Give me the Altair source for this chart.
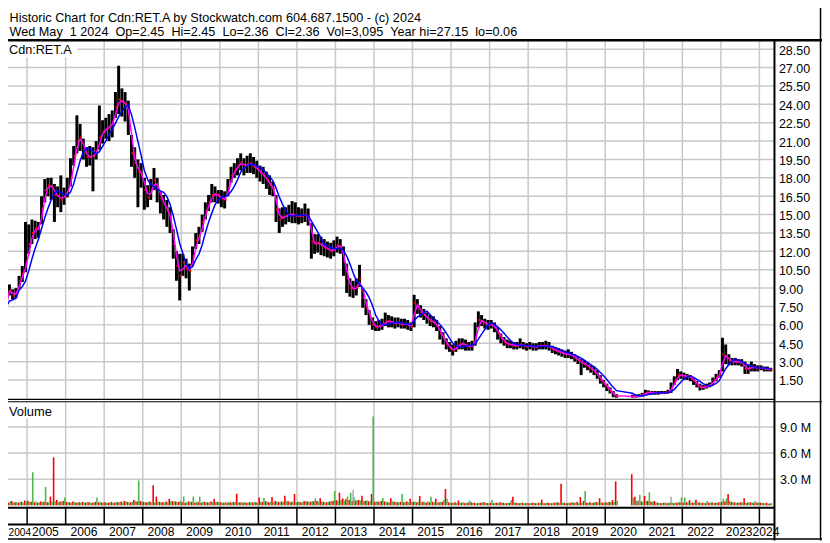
import altair as alt
import pandas as pd

FONT = "Liberation Sans"

# ---------------- values (monthly, May 2004 .. Apr 2024) ----------------
first_month = "2004-05"

close = [
    6.3, 8.7, 8.8, 8.4, 8.6, 9.6, 10.2, 11.0,
    12.6, 13.5, 13.9, 13.8, 15.5, 17.0, 17.4, 17.3, 16.6, 16.5, 16.2, 16.6,
    16.9, 18.0, 19.8, 21.0, 21.3, 20.3, 19.7, 19.7, 19.8, 20.2, 21.3, 21.8,
    22.0, 22.2, 22.5, 23.8, 24.4, 24.2, 24.0, 23.2, 20.0, 19.2, 18.5, 18.3,
    17.0, 16.4, 17.0, 17.8, 17.2, 16.3, 15.8, 15.3, 14.6, 12.6, 10.8, 10.0,
    11.1, 10.6, 10.4, 11.6, 12.9, 13.3, 14.4, 15.3, 16.0, 16.6, 16.7, 16.5,
    16.3, 16.2, 17.2, 18.2, 18.6, 19.0, 19.3, 18.9, 19.1, 19.2, 18.9, 18.7,
    18.4, 18.2, 17.8, 17.4, 17.1, 15.4, 14.6, 14.8, 14.9, 15.0, 15.0, 14.9,
    14.9, 14.9, 15.0, 14.8, 12.8, 12.6, 12.7, 12.5, 12.3, 12.2, 12.0, 12.2,
    12.5, 12.4, 11.2, 9.8, 9.0, 8.9, 9.1, 9.8, 8.2, 7.4, 6.6, 6.0,
    5.8, 5.9, 6.0, 6.3, 6.3, 6.2, 6.1, 6.2, 6.0, 6.1, 6.0, 5.8,
    7.8, 7.5, 7.0, 6.8, 6.5, 6.3, 6.2, 5.9, 5.3, 4.9, 4.4, 4.1,
    3.9, 4.2, 4.4, 4.5, 4.3, 4.2, 4.3, 5.0, 6.4, 6.3, 6.1, 6.0,
    6.0, 5.8, 5.3, 4.9, 4.6, 4.4, 4.4, 4.3, 4.3, 4.4, 4.3, 4.2,
    4.3, 4.2, 4.2, 4.3, 4.3, 4.3, 4.2, 4.0, 3.9, 3.8, 3.7, 3.6,
    3.6, 3.5, 3.3, 3.1, 2.9, 2.8, 2.6, 2.4, 2.2, 1.9, 1.5, 1.2,
    0.9, 0.6, 0.3, 0.15, None, None, None, None, 0.15, 0.15, 0.2, 0.3,
    0.45, 0.5, 0.45, 0.45, 0.45, 0.45, 0.45, 0.5, 0.9, 1.4, 1.9, 1.9,
    1.8, 1.8, 1.7, 1.4, 1.1, 0.9, 0.9, 1.0, 1.1, 1.4, 1.7, 2.0,
    3.6, 3.4, 3.1, 3.0, 3.0, 3.0, 2.9, 2.4, 2.4, 2.6, 2.5, 2.4,
    2.5, 2.4, 2.4, 2.36,
]

high = [
    6.9, 9.2, 9.3, 8.9, 9.0, 10.0, 10.8, 14.4,
    14.2, 14.6, 14.5, 14.4, 16.5, 17.9, 18.0, 18.0, 17.5, 17.3, 18.2, 17.2,
    18.0, 19.6, 20.6, 23.1, 22.4, 21.2, 20.5, 20.6, 20.5, 21.0, 23.9, 22.7,
    22.9, 23.2, 23.5, 25.0, 27.15, 25.3, 25.0, 24.3, 21.5, 20.5, 19.5, 19.2,
    18.0, 17.4, 17.9, 18.8, 18.0, 16.9, 16.6, 16.2, 15.6, 13.8, 12.0, 11.8,
    11.8, 11.4, 11.0, 12.4, 13.5, 14.0, 15.0, 16.0, 16.6, 17.5, 17.3, 17.0,
    17.0, 16.9, 17.9, 18.9, 19.2, 19.6, 20.0, 19.6, 19.8, 20.0, 19.7, 19.4,
    19.0, 18.9, 18.5, 18.2, 17.7, 16.6, 15.5, 15.6, 15.6, 15.8, 16.1, 16.0,
    15.6, 15.5, 15.9, 15.5, 14.3, 13.4, 13.4, 13.2, 13.0, 12.8, 12.7, 12.9,
    13.2, 13.0, 12.4, 11.0, 9.8, 9.6, 9.8, 10.9, 9.0, 8.1, 7.2, 6.6,
    6.3, 6.4, 6.5, 7.0, 6.8, 6.7, 6.6, 6.6, 6.5, 6.5, 6.4, 6.2,
    8.45, 8.1, 7.6, 7.3, 7.0, 6.8, 6.7, 6.4, 5.9, 5.4, 4.9, 4.6,
    4.4, 4.7, 4.9, 4.9, 4.8, 4.6, 4.7, 6.2, 7.1, 6.8, 6.5, 6.4,
    6.4, 6.2, 5.8, 5.3, 5.0, 4.8, 4.7, 4.6, 4.6, 4.9, 4.6, 4.5,
    4.6, 4.5, 4.5, 4.6, 4.6, 4.7, 4.6, 4.3, 4.2, 4.1, 4.0, 3.9,
    4.0, 3.8, 3.6, 3.4, 3.2, 3.1, 2.9, 2.7, 2.6, 2.3, 1.9, 1.5,
    1.2, 0.9, 0.6, 0.35, None, None, None, None, 0.3, 0.3, 0.35, 0.45,
    0.7, 0.65, 0.6, 0.6, 0.6, 0.6, 0.6, 0.7, 1.3, 1.8, 2.4, 2.2,
    2.1, 2.0, 1.9, 1.7, 1.4, 1.2, 1.1, 1.2, 1.3, 1.7, 2.0, 2.3,
    4.95, 4.4, 3.6, 3.3, 3.3, 3.2, 3.2, 3.0, 2.7, 3.0, 2.8, 2.7,
    2.7, 2.6, 2.6, 2.5,
]

low = [
    5.9, 6.6, 8.4, 8.1, 8.2, 8.9, 9.5, 10.3,
    11.8, 12.6, 13.0, 13.1, 14.2, 16.0, 16.5, 16.2, 14.4, 15.6, 15.2, 15.8,
    16.4, 17.3, 19.0, 20.0, 20.2, 19.5, 18.9, 19.0, 16.9, 19.5, 20.3, 20.8,
    21.2, 21.0, 21.3, 22.9, 23.2, 23.0, 22.6, 21.5, 18.9, 18.0, 15.6, 17.2,
    15.4, 15.6, 16.2, 17.0, 16.0, 15.1, 14.6, 14.0, 13.5, 11.4, 9.6, 8.0,
    10.0, 9.8, 8.8, 10.8, 12.2, 12.6, 13.6, 14.6, 15.3, 16.0, 16.0, 15.9,
    15.6, 15.5, 16.5, 17.6, 18.0, 18.2, 18.6, 18.2, 18.4, 18.4, 18.3, 18.0,
    17.7, 17.5, 17.1, 16.6, 16.5, 14.4, 13.5, 14.0, 14.2, 14.4, 14.3, 14.3,
    14.2, 14.3, 14.4, 14.1, 11.4, 11.8, 11.9, 11.7, 11.6, 11.5, 11.4, 11.6,
    11.9, 11.8, 10.0, 8.6, 8.3, 8.2, 8.4, 9.1, 7.4, 6.8, 6.0, 5.6,
    5.5, 5.5, 5.6, 5.9, 5.8, 5.8, 5.7, 5.8, 5.7, 5.7, 5.6, 5.5,
    5.8, 6.9, 6.6, 6.4, 6.1, 5.9, 5.8, 5.5, 4.8, 4.4, 4.0, 3.8,
    3.5, 3.8, 4.0, 4.0, 3.9, 3.9, 3.9, 4.3, 5.8, 5.9, 5.7, 5.6,
    5.7, 5.4, 4.8, 4.5, 4.3, 4.1, 4.1, 4.0, 4.0, 4.1, 4.0, 3.9,
    4.0, 3.9, 3.9, 4.0, 4.0, 4.0, 3.9, 3.7, 3.6, 3.5, 3.4, 3.3,
    3.3, 3.2, 3.0, 2.8, 1.9, 2.5, 2.3, 2.1, 1.9, 1.6, 1.2, 0.9,
    0.6, 0.4, 0.1, 0.06, None, None, None, None, 0.06, 0.08, 0.1, 0.15,
    0.3, 0.35, 0.3, 0.3, 0.3, 0.35, 0.35, 0.4, 0.45, 1.1, 1.5, 1.6,
    1.5, 1.5, 1.4, 1.1, 0.9, 0.65, 0.7, 0.8, 0.9, 1.1, 1.4, 1.7,
    2.2, 2.8, 2.7, 2.7, 2.7, 2.7, 2.6, 2.0, 2.0, 2.2, 2.2, 2.2,
    2.3, 2.2, 2.2, 2.2,
]

# largest daily volume of down days (red) and up days (green) in each month, millions
vol_red = [
    1.08, .45, .3, .5, .35, .3, .4, .55,
    .5, .4, .35, .3, .45, .4, .35, 1.0, 5.5, .6, .45, .5,
    .4, .35, .45, .3, .35, .4, .3, .35, .3, .4, .35, .3,
    .35, .3, .4, .3, .35, .45, .5, .4, .35, .6, .45, .5,
    .4, .35, .45, 2.3, 1.0, .4, .35, .45, .75, .5, .45, .4,
    .35, .3, .45, .4, .3, .35, .3, .4, .35, .45, .75, .4,
    .35, .3, .3, .35, .4, 1.34, .35, .3, .3, .35, .3, .35,
    .9, .4, .45, .35, .95, .5, .4, .45, 1.1, .5, .4, 1.3,
    .4, .35, .5, .45, .4, .45, .5, .8, .4, .35, .45, .5,
    .6, 1.45, .8, .7, .6, .5, .55, .6, 1.1, .5, .45, 1.3,
    .4, .45, .5, .45, .35, .8, .4, .35, .4, .35, .45, .75,
    .4, .35, 1.08, .4, .3, .35, .4, .75, .35, .4, 1.88, .35,
    .3, .35, .55, .3, .25, .3, .35, .3, .25, .3, .35, .25,
    .3, .25, .3, .35, .3, .25, .3, 1.0, .3, .25, .3, .25,
    .25, .3, .25, .3, .65, .25, .3, .25, .3, .35, 2.48, .3,
    .25, .3, .3, .4, .95, .5, .3, .35, .3, .4, .82, .3,
    .35, .4, .6, 2.75, 0, 0, 0, 0, 3.58, 1.0, .5, .45,
    1.08, .5, .4, .5, .3, .25, .3, .25, .3, .25, .3, .35,
    .3, .35, .6, .3, .65, .35, .3, .25, .3, .35, .3, .35,
    .4, .45, 1.3, .4, .35, .3, .35, .8, .3, .35, .3, .3,
    .3, .25, .3, .2,
]

vol_green = [
    .3, .35, .45, .3, .35, .4, .3, .45,
    .4, 3.8, .45, .35, .4, 2.1, .35, .4, .45, .35, .4, .9,
    .35, .3, .4, .35, .3, .35, .4, .3, .35, .9, .4, .35,
    .3, .35, .3, .4, .35, .3, .45, .35, .4, .5, 2.86, .4,
    .35, .4, .3, .35, .4, .35, .3, .35, .45, .4, .35, .5,
    1.0, .35, .4, 1.0, .45, 1.0, .4, .35, .3, .4, .35, .4,
    .3, .35, .4, .3, .35, .3, .35, .4, .3, .35, .4, .3,
    .4, .85, .45, .4, .35, .4, .35, .4, .45, .35, .4, .35,
    .4, .35, .45, .4, .5, .8, .4, .45, .35, .4, .5, 1.65,
    .5, .6, .55, 1.0, 1.45, .9, .6, .55, .5, .6, .5, 10.2,
    .45, .4, .85, .4, .35, .45, .4, .35, 1.3, .4, .35, .4,
    .45, .4, .35, .4, .45, 1.0, .35, .3, .4, .6, .75, .3,
    .3, .25, .3, .35, .3, .55, .3, .25, .3, .35, .3, .25,
    .6, .3, .25, .3, .25, .3, .6, .3, .25, .3, .25, .3,
    .25, .3, .25, .3, .25, .3, .25, .3, .35, .25, .3, .25,
    .3, .4, .3, .25, .3, 1.65, .3, .25, .35, .3, .35, .3,
    .3, .35, .4, .5, 0, 0, 0, 0, .9, .5, 1.2, .4,
    .5, 1.5, .4, .35, .3, .25, .3, .3, .35, .3, .35, .9,
    .9, .35, .3, .35, .3, .25, .3, .5, .3, .25, .3, .35,
    .75, .8, .5, .35, .3, .35, .3, .3, .35, .3, .5, .35,
    .3, .25, .2, .25,
]

gray_months = ["2013-06", "2020-11", "2021-09"]
gray_vol = [1.8, 0.6, 1.0]

price_ticks = [1.5, 3.0, 4.5, 6.0, 7.5, 9.0, 10.5, 12.0, 13.5, 15.0, 16.5,
               18.0, 19.5, 21.0, 22.5, 24.0, 25.5, 27.0, 28.5]
vol_ticks = [3, 6, 9]
vol_tick_labels = ["3.0 M", "6.0 M", "9.0 M"]
years = list(range(2004, 2025))

header_1 = "Historic Chart for Cdn:RET.A by Stockwatch.com 604.687.1500 - (c) 2024"
header_2 = ("Wed May\u00a0\u00a01 2024\u00a0\u00a0Op=2.45\u00a0\u00a0Hi=2.45\u00a0\u00a0Lo=2.36"
            "\u00a0\u00a0Cl=2.36\u00a0\u00a0Vol=3,095\u00a0\u00a0Year hi=27.15\u00a0\u00a0lo=0.06")
symbol = "Cdn:RET.A"
vol_title = "Volume"

# ---------------- layout (pixels) ----------------
W, H = 830, 543
X_2004, PX_YEAR = -11.62, 38.92
T_END = 2024.39
RIGHT = 782
HEAD_LINE = 38
PRICE_TOP, PRICE_BOT = 39, 400
VOL_TOP, VOL_BOT = 403, 509.5
HEAD_SIZE = 12.8
HEAD_X = 9.5

XS = alt.Scale(domain=[2004, 2025], range=[X_2004, X_2004 + 21 * PX_YEAR], nice=False, zero=False)
PS = alt.Scale(domain=[0, 30], range=[399.6, 28.4], nice=False, zero=False)
VS = alt.Scale(domain=[0, 12], range=[507.6, 402.0], nice=False, zero=False)

assert len(close) == len(high) == len(low) == len(vol_red) == len(vol_green) == 240

months = pd.period_range(first_month, periods=len(close), freq="M")
t0 = [p.year + (p.month - 1) / 12 for p in months]
df = pd.DataFrame({
    "t0": t0,
    "tm": [a + 1 / 24 for a in t0],
    "t1": [a + 1 / 12 for a in t0],
    "tr": [a + 1 / 24 + 0.05 for a in t0],
    "close": close, "high": high, "low": low,
    "vr": vol_red, "vg": vol_green,
})
gp = [pd.Period(m, freq="M") for m in gray_months]
gdf = pd.DataFrame({
    "a": [p.year + (p.month - 1) / 12 + 0.025 for p in gp],
    "b": [p.year + (p.month - 1) / 12 + 0.06 for p in gp],
    "v": gray_vol,
})
ydf = pd.DataFrame({"yr": years[1:]})
ylab = pd.DataFrame({
    "pos": [(y + min(y + 1, T_END)) / 2 for y in years[1:]],
    "txt": [str(y) for y in years[1:]],
})
ptk = pd.DataFrame({"v": price_ticks, "txt": [f"{v:.2f}" for v in price_ticks]})
vtk = pd.DataFrame({"v": vol_ticks, "txt": vol_tick_labels})

GRID = "#c8c8c8"
one = alt.Data(values=[{}])


def X(field):
    return alt.X(field, type="quantitative", scale=XS, axis=None)


def rule(x1, x2, y1, y2, color="black", w=1.0):
    return alt.Chart(one).mark_rule(color=color, strokeWidth=w).encode(
        x=alt.value(x1), x2=alt.value(x2), y=alt.value(y1), y2=alt.value(y2))


def box(x1, x2, y1, y2):
    return alt.Chart(one).mark_rect(color="white").encode(
        x=alt.value(x1), x2=alt.value(x2), y=alt.value(y1), y2=alt.value(y2))


def label(txt, x, y, size, align="left"):
    return alt.Chart(one).mark_text(text=txt, align=align, baseline="alphabetic",
                                    font=FONT, fontSize=size, color="black").encode(
        x=alt.value(x), y=alt.value(y))


layers = []
# grids
layers.append(alt.Chart(ydf).mark_rule(color=GRID, strokeWidth=1.5).encode(
    x=X("yr"), y=alt.value(PRICE_TOP), y2=alt.value(PRICE_BOT)))
layers.append(alt.Chart(ydf).mark_rule(color=GRID, strokeWidth=1.5).encode(
    x=X("yr"), y=alt.value(VOL_TOP), y2=alt.value(VOL_BOT)))
layers.append(alt.Chart(ptk).mark_rule(color=GRID, strokeWidth=1.5).encode(
    y=alt.Y("v:Q", scale=PS, axis=None), x=alt.value(0), x2=alt.value(RIGHT)))
layers.append(alt.Chart(vtk).mark_rule(color=GRID, strokeWidth=1.5).encode(
    y=alt.Y("v:Q", scale=VS, axis=None), x=alt.value(0), x2=alt.value(RIGHT)))

# label boxes
layers.append(box(4, 78, 40, 55))
layers.append(box(4, 57, 404, 420))

# price bars
layers.append(alt.Chart(df).mark_rule(color="black", strokeWidth=3.0).encode(
    x=X("tm"), y=alt.Y("low:Q", scale=PS, axis=None), y2="high:Q"))
layers.append(alt.Chart(df).mark_rule(color="#ff0000", strokeWidth=2).encode(
    x=X("tm"), x2="tr:Q", y=alt.Y("close:Q", scale=PS, axis=None)))
# moving averages
layers.append(alt.Chart(df).transform_filter("isValid(datum.close)").transform_window(
    ma="mean(close)", frame=[-1, 0], sort=[{"field": "tm"}]).mark_line(
    color="#ff00ff", strokeWidth=1.5).encode(x=X("tm"), y=alt.Y("ma:Q", scale=PS, axis=None)))
layers.append(alt.Chart(df).transform_filter("isValid(datum.close)").transform_window(
    ma="mean(close)", frame=[-4, 0], sort=[{"field": "tm"}]).mark_line(
    color="#0000ff", strokeWidth=1.5).encode(x=X("tm"), y=alt.Y("ma:Q", scale=PS, axis=None)))

# volume
layers.append(alt.Chart(df).mark_rect(color="#ff0000").encode(
    x=X("t0"), x2="tm:Q", y=alt.Y("vr:Q", scale=VS, axis=None), y2=alt.value(507.6)))
layers.append(alt.Chart(df).mark_rect(color="#4db84d").encode(
    x=X("tm"), x2="t1:Q", y=alt.Y("vg:Q", scale=VS, axis=None), y2=alt.value(507.6)))
layers.append(alt.Chart(gdf).mark_rect(color="#a0a0a0").encode(
    x=X("a"), x2="b:Q", y=alt.Y("v:Q", scale=VS, axis=None), y2=alt.value(507.6)))

# frame lines
layers.append(rule(0, W, HEAD_LINE, HEAD_LINE, w=2.5))
layers.append(rule(0, RIGHT, 400.5, 400.5, w=1.2))
layers.append(rule(0, W, 403, 403, w=1.2))
layers.append(rule(0, RIGHT, 510, 510, w=2))
layers.append(rule(0, RIGHT, 527, 527, w=2))
layers.append(rule(0, W, 541.5, 541.5, w=1.5))
layers.append(rule(RIGHT, RIGHT, HEAD_LINE, H, w=2))
layers.append(rule(828.5, 828.5, 0, H, w=1.5))
layers.append(alt.Chart(ydf).mark_rule(color="black", strokeWidth=1.5).encode(
    x=X("yr"), y=alt.value(510), y2=alt.value(527)))

# texts
layers.append(label(header_1, HEAD_X, 19.8, HEAD_SIZE))
layers.append(label(header_2, HEAD_X, 34.1, HEAD_SIZE))
layers.append(label(symbol, 9, 52.0, 12.8))
layers.append(label(vol_title, 9, 417.7, 13))
layers.append(alt.Chart(ptk).mark_text(align="left", baseline="alphabetic", font=FONT,
                                       fontSize=12.6, color="black", dy=5.5).encode(
    y=alt.Y("v:Q", scale=PS, axis=None), x=alt.value(786.5), text="txt:N"))
layers.append(alt.Chart(vtk).mark_text(align="left", baseline="alphabetic", font=FONT,
                                       fontSize=12.6, color="black", dy=5).encode(
    y=alt.Y("v:Q", scale=VS, axis=None), x=alt.value(787.5), text="txt:N"))
layers.append(alt.Chart(ylab).mark_text(align="center", baseline="alphabetic", font=FONT,
                                        fontSize=12.2, color="black", dx=-1).encode(
    x=X("pos"), y=alt.value(538.5), text="txt:N"))
# the first year's box is mostly outside the visible strip: its label is kept whole
layers.append(label(str(years[0]), 31.3, 538.5, 10.2, align="right"))

chart = alt.layer(*layers).resolve_scale(y="independent").properties(
    width=W, height=H,
    padding={"left": -8, "top": -8, "right": 0, "bottom": 0},
    autosize=alt.AutoSizeParams(type="none"),
    background="white",
).configure_view(stroke=None)

chart.save("out.html", embed_options={"renderer": "svg", "actions": False})
